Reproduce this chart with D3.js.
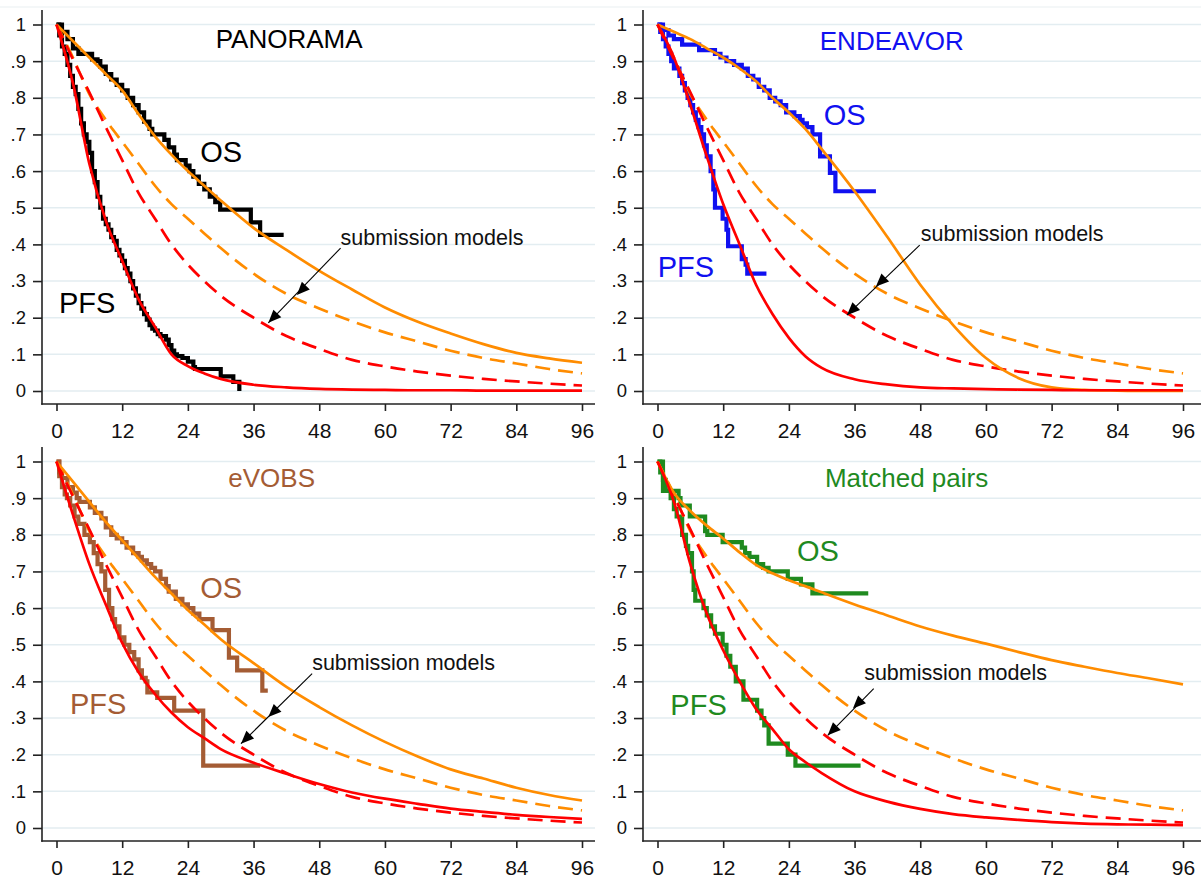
<!DOCTYPE html>
<html>
<head>
<meta charset="utf-8">
<script src="https://cdn.jsdelivr.net/npm/d3@7"></script>
<style>
body { margin: 0; background: #fff; }
svg { display: block; }
text { font-family: Arial, "Liberation Sans", sans-serif; }
</style>
</head>
<body>
<svg id="chart" width="1201" height="884"></svg>
<script>
// months at which the fitted model curves were read
var modelMonths = [0, 3, 6, 9, 12, 15, 18, 21, 24, 27, 30, 36, 42, 48, 54, 60, 66, 72, 78, 84, 90, 96];

// submission models (same in every panel)
var submissionOs  = [1, .91, .81, .74, .68, .62, .56, .51, .47, .43, .39, .32, .265, .225, .19, .16, .135, .11, .09, .075, .06, .048];
var submissionPfs = [1, .905, .815, .72, .63, .54, .47, .40, .345, .30, .26, .20, .15, .115, .085, .067, .053, .042, .033, .026, .02, .015];

// fitted curves per trial
var panoramaOsFit  = [1, .955, .91, .865, .82, .755, .695, .645, .60, .56, .52, .445, .385, .328, .277, .228, .189, .157, .128, .104, .089, .077];
var panoramaPfsFit = [1, .84, .62, .465, .355, .25, .175, .10, .068, .048, .033, .017, .01, .006, .004, .003, .002, .002, .001, .001, .001, .001];
var endeavorOsFit  = [1, .98, .96, .935, .91, .88, .845, .80, .76, .715, .66, .545, .42, .29, .18, .09, .035, .01, .003, .001, 0, 0];
var endeavorPfsFit = [1, .91, .78, .64, .51, .40, .29, .21, .145, .095, .063, .032, .018, .01, .007, .005, .004, .003, .002, .002, .002, .002];
var evobsOsFit     = [1, .945, .89, .835, .785, .735, .685, .64, .595, .555, .515, .45, .385, .33, .28, .235, .195, .16, .135, .11, .09, .075];
var evobsPfsFit    = [1, .855, .72, .61, .505, .425, .365, .315, .275, .245, .215, .178, .148, .12, .097, .08, .066, .053, .044, .036, .03, .025];
var matchedOsFit   = [1, .915, .865, .825, .79, .752, .718, .695, .676, .66, .643, .61, .58, .55, .525, .503, .48, .458, .44, .423, .408, .392];
var matchedPfsFit  = [1, .89, .72, .585, .485, .40, .325, .27, .215, .18, .15, .10, .072, .052, .038, .029, .022, .016, .012, .01, .009, .008];

// Kaplan-Meier estimates [month, survival]
var panoramaOsKm = [[0,1],[1,.98],[2,.96],[3,.935],[4,.92],[6.5,.905],[7.5,.9],[8,.885],[9,.865],[10,.85],[11,.835],[12,.82],[13,.8],[14,.78],[15,.76],[16,.735],[17,.715],[17.5,.7],[19.7,.685],[20.5,.665],[21.5,.645],[22,.63],[23.6,.615],[24.3,.6],[25,.585],[26,.565],[27,.55],[28,.53],[29,.515],[29.9,.495],[35.5,.46],[37.2,.426],[41.5,.426]];
var panoramaPfsKm = [[0,1],[0.5,.97],[1,.94],[1.5,.92],[2,.89],[2.5,.86],[3,.83],[3.5,.81],[4,.77],[4.5,.73],[5,.7],[5.5,.68],[6,.65],[6.5,.6],[7,.57],[7.5,.53],[8,.5],[8.5,.47],[9,.455],[9.5,.44],[10,.42],[10.5,.41],[11,.385],[11.5,.37],[12,.355],[12.5,.335],[13,.32],[13.5,.3],[14,.28],[14.5,.26],[15,.24],[15.5,.225],[16,.21],[16.5,.195],[17,.18],[17.5,.17],[18,.165],[18.5,.155],[19,.15],[20,.14],[20.5,.125],[21,.11],[21.5,.1],[22,.095],[23,.09],[24,.08],[25,.065],[25.3,.06],[30,.04],[32.3,.025],[33.4,0],[33.4,0]];
var endeavorOsKm = [[0,1],[1,.985],[2,.97],[3,.96],[4.5,.945],[7.6,.93],[10.5,.92],[11.5,.91],[12.6,.9],[14,.89],[15.4,.88],[16.5,.86],[17.5,.85],[18.5,.83],[19.5,.82],[20.5,.8],[21.5,.79],[22.5,.78],[23.5,.76],[25,.75],[26,.74],[26.5,.73],[27.3,.72],[28.3,.7],[29.7,.64],[31.5,.595],[32.5,.545],[39.9,.545]];
var endeavorPfsKm = [[0,1],[0.5,.98],[1,.96],[1.5,.94],[2,.92],[2.5,.9],[3,.88],[4,.86],[4.5,.84],[5,.82],[5.5,.8],[6,.78],[6.5,.76],[7,.74],[7.5,.72],[8,.7],[8.5,.67],[9,.64],[9.7,.6],[10.2,.55],[10.5,.5],[11.9,.47],[12.6,.44],[12.9,.395],[15.4,.36],[16.1,.345],[16.4,.32],[19.9,.32]];
var evobsOsKm = [[0,1],[0.5,.97],[1,.955],[2,.93],[3,.915],[3.7,.9],[4.2,.89],[6.1,.875],[7,.86],[8.2,.845],[9,.82],[10,.8],[11,.79],[12,.78],[12.8,.765],[14,.75],[15,.74],[15.6,.73],[16.5,.72],[17.3,.71],[18,.7],[19,.68],[20,.66],[20.5,.645],[21.8,.625],[23,.61],[24,.6],[25,.585],[26.1,.57],[28.5,.54],[31.5,.465],[33,.43],[37.6,.375],[38.6,.375]];
var evobsPfsKm = [[0,1],[0.5,.96],[1,.93],[1.5,.91],[1.9,.9],[2.5,.88],[3.3,.85],[4,.83],[5.1,.8],[6.1,.78],[6.8,.75],[7.5,.72],[8.2,.7],[8.9,.65],[9.6,.6],[10.2,.57],[10.7,.55],[11.5,.52],[12.4,.5],[13.3,.48],[14.2,.46],[15,.43],[15.6,.41],[16.3,.4],[16.6,.37],[18.4,.355],[21.5,.32],[26.8,.17],[37.2,.17]];
var matchedOsKm = [[0,1],[0.5,.97],[1,.92],[3.85,.9],[4.2,.88],[5.9,.85],[8.7,.81],[9.1,.8],[11.9,.78],[15.4,.765],[16,.75],[16.8,.74],[18.2,.72],[19.3,.71],[20.3,.7],[23.8,.68],[26.2,.665],[28.3,.64],[38.5,.64]];
var matchedPfsKm = [[0,1],[1,.95],[1.5,.92],[2.4,.9],[3,.87],[3.5,.85],[4.5,.8],[5.2,.77],[5.6,.75],[6.3,.7],[6.6,.65],[6.9,.62],[8.4,.6],[9,.58],[9.8,.55],[10.5,.53],[11.9,.5],[12.6,.47],[13.3,.44],[14.3,.4],[15.7,.35],[18.2,.32],[19,.3],[19.5,.28],[20.3,.23],[23.8,.2],[25.2,.17],[37.1,.17]];

var xTicks = [0, 12, 24, 36, 48, 60, 72, 84, 96];
var yTicks = [0, .1, .2, .3, .4, .5, .6, .7, .8, .9, 1];

var ORANGE = "#ff8c00", RED = "#ff0000";

var panels = [
    {title: "PANORAMA", color: "#000000", ox: 0, oy: 0, gridRight: 595,
     osKm: panoramaOsKm, pfsKm: panoramaPfsKm, osFit: panoramaOsFit, pfsFit: panoramaPfsFit,
     titleAt: [42.5, .936], osAt: [30.1, .626], pfsAt: [5.6, .213],
     noteAt: [51.9, .399], arrow: [[51.9, .39], [43.9, .262], [38.7, .186]]},
    {title: "ENDEAVOR", color: "#1010f0", ox: 601, oy: 0, gridRight: 600,
     osKm: endeavorOsKm, pfsKm: endeavorPfsKm, osFit: endeavorOsFit, pfsFit: endeavorPfsFit,
     titleAt: [42.8, .93], osAt: [34.2, .726], pfsAt: [5.2, .312],
     noteAt: [48.1, .408], arrow: [[47.9, .398], [39.9, .285], [34.6, .207]]},
    {title: "eVOBS", color: "#a45c34", ox: 0, oy: 437, gridRight: 595,
     osKm: evobsOsKm, pfsKm: evobsPfsKm, osFit: evobsOsFit, pfsFit: evobsPfsFit,
     titleAt: [39.3, .93], osAt: [30.1, .628], pfsAt: [7.6, .312],
     noteAt: [46.7, .43], arrow: [[46.7, .421], [38.7, .303], [33.7, .23]]},
    {title: "Matched pairs", color: "#1f8a1f", ox: 601, oy: 437, gridRight: 600,
     osKm: matchedOsKm, pfsKm: matchedPfsKm, osFit: matchedOsFit, pfsFit: matchedPfsFit,
     titleAt: [45.5, .93], osAt: [29.3, .728], pfsAt: [7.5, .308],
     noteAt: [37.75, .404], arrow: [[39.5, .38], [35.7, .326], [31.1, .253]]}
];

var svg = d3.select("#chart");

// faint outer border line at top
svg.append("line")
    .attr("x1", 0).attr("x2", 1201).attr("y1", 7).attr("y2", 7)
    .attr("stroke", "#e9eff1").attr("stroke-width", 1);

function yFormat(v) {
    if (v === 0) return "0";
    if (v === 1) return "1";
    return "." + Math.round(v * 10);
}

function arrowHead(g, tip, angle) {
    var len = 13, half = 5.5;
    g.append("path")
        .attr("d", "M0,0L" + (-len) + "," + (-half) + "L" + (-len) + "," + half + "Z")
        .attr("transform", "translate(" + tip[0] + "," + tip[1] + ") rotate(" + (angle * 180 / Math.PI) + ")")
        .attr("fill", "#000");
}

panels.forEach(function (p) {
    var g = svg.append("g").attr("transform", "translate(" + p.ox + "," + p.oy + ")");

    var x = d3.scaleLinear().domain([0, 96]).range([56.5, 582]);
    var y = d3.scaleLinear().domain([0, 1]).range([391, 24.5]);

    // grid
    g.selectAll(".grid").data(yTicks).enter().append("line")
        .attr("x1", 42).attr("x2", p.gridRight)
        .attr("y1", function (d) { return y(d); })
        .attr("y2", function (d) { return y(d); })
        .attr("stroke", "#e3edf1").attr("stroke-width", 1.5);

    // axes
    var yAxis = g.append("g").attr("transform", "translate(42,0)")
        .call(d3.axisLeft(y).tickValues(yTicks).tickFormat(yFormat).tickSize(9).tickPadding(7));
    yAxis.select(".domain").remove();
    yAxis.selectAll("text").attr("font-size", "18.5px").attr("fill", "#111").attr("font-family", null);
    yAxis.selectAll("line").attr("stroke", "#222").attr("stroke-width", 1.6);

    var xAxis = g.append("g").attr("transform", "translate(0,404)")
        .call(d3.axisBottom(x).tickValues(xTicks).tickSize(7).tickPadding(12));
    xAxis.select(".domain").remove();
    xAxis.selectAll("text").attr("font-size", "21px").attr("fill", "#111").attr("font-family", null);
    xAxis.selectAll("line").attr("stroke", "#222").attr("stroke-width", 1.6);

    g.append("line").attr("x1", 42).attr("x2", 42).attr("y1", 10).attr("y2", 404.8)
        .attr("stroke", "#222").attr("stroke-width", 1.6);
    g.append("line").attr("x1", 41.2).attr("x2", p.gridRight).attr("y1", 404).attr("y2", 404)
        .attr("stroke", "#222").attr("stroke-width", 1.6);

    var km = d3.line()
        .x(function (d) { return x(d[0]); })
        .y(function (d) { return y(d[1]); })
        .curve(d3.curveStepAfter);

    var fit = d3.line()
        .x(function (d, i) { return x(modelMonths[i]); })
        .y(function (d) { return y(d); })
        .curve(d3.curveMonotoneX);

    // Kaplan-Meier
    [p.osKm, p.pfsKm].forEach(function (s) {
        g.append("path").datum(s).attr("d", km)
            .attr("fill", "none").attr("stroke", p.color)
            .attr("stroke-width", 4.2).attr("stroke-linejoin", "miter");
    });

    // submission models (dashed)
    g.append("path").datum(submissionOs).attr("d", fit)
        .attr("fill", "none").attr("stroke", ORANGE).attr("stroke-width", 2.7)
        .attr("stroke-dasharray", "15,8");
    g.append("path").datum(submissionPfs).attr("d", fit)
        .attr("fill", "none").attr("stroke", RED).attr("stroke-width", 2.7)
        .attr("stroke-dasharray", "15,8");

    // fitted models (solid)
    g.append("path").datum(p.osFit).attr("d", fit)
        .attr("fill", "none").attr("stroke", ORANGE).attr("stroke-width", 2.7);
    g.append("path").datum(p.pfsFit).attr("d", fit)
        .attr("fill", "none").attr("stroke", RED).attr("stroke-width", 2.7);

    // labels
    g.append("text").attr("x", x(p.titleAt[0])).attr("y", y(p.titleAt[1]))
        .attr("text-anchor", "middle").attr("font-size", "26px").attr("fill", p.color)
        .text(p.title);
    g.append("text").attr("x", x(p.osAt[0])).attr("y", y(p.osAt[1]))
        .attr("text-anchor", "middle").attr("font-size", "29px").attr("fill", p.color)
        .text("OS");
    g.append("text").attr("x", x(p.pfsAt[0])).attr("y", y(p.pfsAt[1]))
        .attr("text-anchor", "middle").attr("font-size", "29px").attr("fill", p.color)
        .text("PFS");
    g.append("text").attr("x", x(p.noteAt[0])).attr("y", y(p.noteAt[1]))
        .attr("font-size", "21.5px").attr("fill", "#111")
        .text("submission models");

    // arrow with two heads
    var a = p.arrow.map(function (d) { return [x(d[0]), y(d[1])]; });
    g.append("line").attr("x1", a[0][0]).attr("y1", a[0][1]).attr("x2", a[2][0]).attr("y2", a[2][1])
        .attr("stroke", "#000").attr("stroke-width", 1.1);
    var ang = Math.atan2(a[2][1] - a[0][1], a[2][0] - a[0][0]);
    arrowHead(g, a[1], ang);
    arrowHead(g, a[2], ang);
});
</script>
</body>
</html>
